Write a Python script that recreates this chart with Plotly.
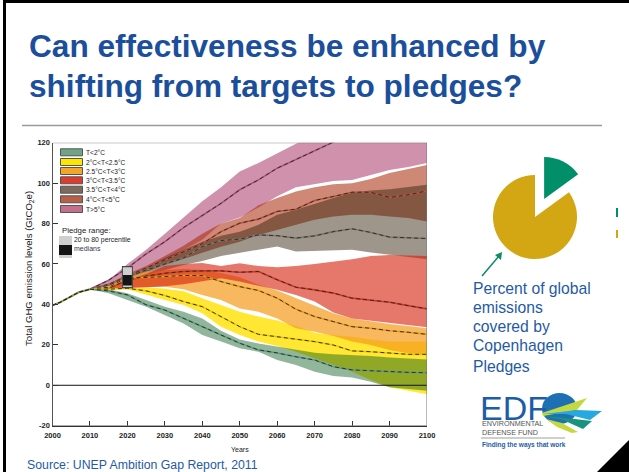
import plotly.graph_objects as go

W, H = 629, 472
YEARS = [2010, 2015, 2020, 2025, 2030, 2035, 2040, 2045, 2050, 2055, 2060, 2065, 2070, 2075, 2080, 2085, 2090, 2095, 2100]

HIST_YEARS = [2000, 2002, 2005, 2007, 2010]
HIST_VALUES = [39.5, 41, 44, 46, 47.5]

PINK_UP = [48, 52, 60, 67, 75, 83, 91, 98, 105.8, 110, 114.8, 119.5, 123, 127, 131, 135, 139, 143, 147]
PINK_LO = [47.5, 50, 54, 58, 62, 67, 72, 80, 83, 88, 93.5, 98, 99.5, 101, 101.5, 104, 106.5, 108, 110]
PINK_MED = [47.5, 52, 58, 65, 71, 78, 84, 90, 96.7, 101.6, 107.4, 111.6, 116.2, 120.3, 125]

RUST_UP = [47.5, 50, 55, 59, 64, 69, 75, 80, 82.7, 89, 92.6, 95.9, 98, 99.5, 100, 102, 105, 107, 109]
RUST_LO = [47.5, 49.5, 53, 56, 59.5, 62.5, 65.5, 68.5, 71, 74.4, 76.9, 79.4, 81.9, 83.5, 84.3, 84.3, 83.5, 82.7, 81]
RUST_MED = [47.5, 50, 54, 58, 62, 66, 70, 76, 80.2, 82.2, 86, 87.1, 91.4, 93.4, 95.5, 95.5, 92.9, 94.2, 96.2]

GREY_UP = [47.5, 49.5, 54, 58, 63, 67, 71, 74, 76, 79.4, 84.3, 86.8, 89.8, 92.6, 95.4, 96.4, 97, 98, 99.2]
GREY_LO = [47.5, 49, 52, 54.5, 57, 59.5, 61.5, 64, 65.4, 67, 68.6, 66.2, 66.5, 66.7, 67, 65.7, 64.4, 63.5, 62.4]
GREY_MED = [47.5, 49.5, 53.5, 57, 60, 63, 68.6, 71.6, 72.3, 74.4, 74, 72.8, 73.9, 76, 77.4, 75.6, 73.3, 72.8, 72.6]

RED_UP = [47.5, 48.5, 52, 55, 59, 60, 60.5, 59, 60.4, 59, 58.4, 59, 60, 61.2, 62.4, 64, 64.4, 64.2, 64]
RED_LO = [47.5, 47.5, 48, 48.5, 49, 50, 51.5, 53, 51.3, 49.2, 47.2, 44.7, 41.4, 36, 33, 32, 30.6, 29.8, 28.7]
RED_MED = [47.5, 48, 52, 54, 55.4, 56.3, 56.6, 56.6, 55.9, 56.3, 52.2, 48.5, 47.2, 45.6, 43.1, 42.2, 41.1, 39.4, 37.8]

ORANGE_UP = [47.5, 48.5, 53.8, 56.3, 57, 57.5, 57, 55.5, 53.5, 49.7, 46.9, 43, 39.3, 35.6, 33, 31.6, 30.3, 29.3, 28.2]
ORANGE_LO = [47.5, 47.5, 48.5, 48.8, 48.8, 47.5, 44.7, 42.2, 38, 36.4, 33, 28.2, 26.5, 24.4, 21.6, 19.9, 17.4, 15.8, 15]
ORANGE_MED = [47.5, 48.5, 53.3, 53.3, 53.8, 54.3, 54.3, 51.3, 48.8, 46.9, 43.1, 37.6, 34, 31.5, 29, 28.2, 27, 26.2, 25.2]

YELLOW_UP = [47.5, 47.5, 48, 48.5, 47.8, 46.5, 43, 39.8, 36.4, 34, 32, 29.3, 26, 24.7, 24, 22.7, 21.6, 21.6, 21.6]
YELLOW_LO = [47.5, 47.5, 47.5, 44.7, 42.2, 39.7, 35.6, 29, 24.9, 21.6, 19.4, 16.6, 13.3, 10, 6.7, 2.6, -1, -2.8, -4.5]
YELLOW_MED = [47.5, 47.5, 48, 46.7, 44.4, 41.4, 38.9, 34, 29, 25.2, 24, 22.7, 21.6, 19.9, 17, 16.6, 15.8, 15.3, 15.3]

GREEN_UP = [47.5, 47.5, 45.5, 42.2, 38.9, 36.4, 33, 27, 22.7, 20.7, 19.1, 17.8, 16.1, 15.3, 15, 14.5, 13.8, 13.3, 12.8]
GREEN_LO = [47.5, 45.5, 42.2, 38.9, 34.8, 30.6, 24.9, 21.6, 18.3, 16.6, 12.5, 10, 6.7, 4.6, 3.9, 1.8, -1, -1.9, -2.7]
GREEN_MED = [47.5, 46.7, 44.7, 39.8, 37.2, 33.1, 29, 24.9, 20.8, 17.5, 16, 14.1, 12.5, 9.2, 7.6, 7.2, 6.7, 6.4, 6.2]

PLEDGE_YEAR = [2020, 2020]
PLEDGE_RANGE = [48, 59]
PLEDGE_MED = [49.3, 54.5]

X_TICKS = [2000, 2010, 2020, 2030, 2040, 2050, 2060, 2070, 2080, 2090, 2100]
Y_TICKS = [-20, 0, 20, 40, 60, 80, 100, 120]
Y_TICK_TEXT = ["-20", "0", "20", "40", "60", "80", "100", "120"]

LEGEND_LABELS = ["T&lt;2°C", "2°C&lt;T&lt;2.5°C", "2.5°C&lt;T&lt;3°C", "3°C&lt;T&lt;3.5°C", "3.5°C&lt;T&lt;4°C", "4°C&lt;T&lt;5°C", "T&gt;5°C"]
LEGEND_COLORS = ["#6fa586", "#ffe600", "#f5a52a", "#dd3c2c", "#7c6b5d", "#b85f48", "#c4708c"]

PIE_LABELS = ["Covered", "Not covered"]
PIE_VALUES = [15, 85]

TEXT_BLUE = "#1f5aa6"
TITLE_BLUE = "#1b4f9c"
NARROW = "Liberation Sans Narrow, Liberation Sans, sans-serif"
SANS = "Liberation Sans, Arial, sans-serif"


def fx(px):
    return px / W


def fy(py):
    return 1 - py / H


fig = go.Figure()

bands = [
    (PINK_UP, PINK_LO, "rgba(165,45,95,0.52)"),
    (RUST_UP, RUST_LO, "rgba(167,38,5,0.55)"),
    (GREY_UP, GREY_LO, "rgba(49,32,9,0.47)"),
    (YELLOW_UP, YELLOW_LO, "rgba(255,228,30,0.9)"),
    (ORANGE_UP, ORANGE_LO, "rgba(243,154,27,0.7)"),
    (RED_UP, RED_LO, "rgba(213,28,9,0.6)"),
    (GREEN_UP, GREEN_LO, "rgba(0,85,24,0.43)"),
]
for up, lo, col in bands:
    fig.add_trace(go.Scatter(x=YEARS + YEARS[::-1], y=up + lo[::-1], fill="toself", fillcolor=col,
                             mode="lines", line=dict(width=0), hoverinfo="skip", showlegend=False))

medians = [
    (PINK_MED, "#a85a78"), (RUST_MED, "#b5563f"), (GREY_MED, "#7f776c"), (RED_MED, "#c83c2c"),
    (ORANGE_MED, "#e69a20"), (YELLOW_MED, "#e8c810"), (GREEN_MED, "#5f9c80"),
]
for med, col in medians:
    xs = YEARS[:len(med)]
    fig.add_trace(go.Scatter(x=xs, y=med, mode="lines", line=dict(color=col, width=1.6),
                             hoverinfo="skip", showlegend=False))
    fig.add_trace(go.Scatter(x=xs, y=med, mode="lines", line=dict(color="#262626", width=0.9, dash="4px,3px"),
                             hoverinfo="skip", showlegend=False))

fig.add_trace(go.Scatter(x=HIST_YEARS, y=HIST_VALUES, mode="lines", line=dict(color="#8c9c50", width=2),
                         hoverinfo="skip", showlegend=False))
fig.add_trace(go.Scatter(x=HIST_YEARS, y=HIST_VALUES, mode="lines", line=dict(color="#1e1e1e", width=1.2, dash="4px,2px"),
                         hoverinfo="skip", showlegend=False))

fig.add_trace(go.Scatter(x=PLEDGE_YEAR, y=PLEDGE_RANGE, mode="lines", line=dict(color="#444444", width=11),
                         hoverinfo="skip", showlegend=False))
fig.add_trace(go.Scatter(x=PLEDGE_YEAR, y=[PLEDGE_RANGE[0] + 0.6, PLEDGE_RANGE[1] - 0.6], mode="lines",
                         line=dict(color="#cfcfcf", width=9), hoverinfo="skip", showlegend=False))
fig.add_trace(go.Scatter(x=PLEDGE_YEAR, y=PLEDGE_MED, mode="lines", line=dict(color="#151515", width=9),
                         hoverinfo="skip", showlegend=False))

fig.add_trace(go.Scatter(x=[2000, 2100], y=[0, 0], mode="lines", line=dict(color="#111111", width=1),
                         hoverinfo="skip", showlegend=False))

# invisible full-page pixel axes that carry the slide furniture
fig.add_trace(go.Scatter(x=[0], y=[0], xaxis="x2", yaxis="y2", mode="markers", marker=dict(opacity=0, size=1),
                         hoverinfo="skip", showlegend=False))

# pie: centre (535,217), radius 42, pull 0.48
PIE_R = 42 * 1.48
fig.add_trace(go.Pie(labels=PIE_LABELS, values=PIE_VALUES, sort=False, direction="clockwise", rotation=0,
                     pull=[0.48, 0], marker=dict(colors=["#008f68", "#d3a613"], line=dict(width=0)),
                     textinfo="none", hoverinfo="skip", showlegend=False,
                     domain=dict(x=[fx(535 - PIE_R), fx(535 + PIE_R)], y=[fy(217 + PIE_R), fy(217 - PIE_R)])))

shapes = []


def rect(x0, y0, x1, y1, fill, line=None, lw=0):
    shapes.append(dict(type="rect", xref="x2", yref="y2", x0=x0, x1=x1, y0=y0, y1=y1,
                       fillcolor=fill, line=dict(color=line or fill, width=lw), layer="above"))


def poly(points, fill):
    d = "M" + " L".join(f"{a:.2f},{b:.2f}" for a, b in points) + " Z"
    shapes.append(dict(type="path", xref="x2", yref="y2", path=d, fillcolor=fill, line=dict(width=0), layer="above"))


def seg(x0, y0, x1, y1, color, width):
    shapes.append(dict(type="line", xref="x2", yref="y2", x0=x0, x1=x1, y0=y0, y1=y1,
                       line=dict(color=color, width=width), layer="above"))


# slide frame
rect(3, 0, 6, 472, "#000000")
rect(3, 0, 629, 3, "#000000")
poly([(597, 472), (629, 440), (629, 472)], "#000000")
seg(22, 125.5, 602, 125.5, "#9a9a9a", 1.5)

# plot frame
shapes.append(dict(type="rect", xref="x", yref="y", x0=2000, x1=2100, y0=-20, y1=120,
                   line=dict(color="#777777", width=1), layer="above"))

# legend swatches
SW_Y = [152.3, 162, 171, 180.3, 189.7, 199.3, 209]
for yy, col in zip(SW_Y, LEGEND_COLORS):
    rect(60.5, yy - 3.5, 82.5, yy + 3.5, col, "#555555", 1)
rect(59, 236, 72, 258, "#cfcfcf")
rect(59, 245, 72, 255, "#151515")

# pie side marks
rect(616, 208, 618, 217, "#008f68")
rect(616, 230, 618, 238, "#d3a613")

# arrow to the pie
seg(482, 276, 499, 256, "#0d8a68", 1.5)
poly([(502, 252), (501, 260), (495, 255)], "#0d8a68")

# logo
shapes.append(dict(type="circle", xref="x2", yref="y2", x0=542, x1=577, y0=393, y1=424,
                   fillcolor="#1f6fb5", line=dict(width=0), layer="above"))
poly([(542, 413), (587, 398), (577, 410), (543, 416)], "#c4d93f")
poly([(543, 414), (577, 410), (602, 411), (590, 420), (566, 414)], "#27a9e0")
poly([(543, 416), (566, 418), (592, 421), (583, 429), (563, 420)], "#17937f")
poly([(546, 419), (562, 423), (578, 432), (572, 433), (557, 427)], "#c4d93f")
seg(481, 438, 565, 438, "#777777", 0.7)

ann = []


def text(px, py, s, size, color="#222222", family=SANS, anchor="left", angle=0):
    ann.append(dict(x=px, y=py, xref="x2", yref="y2", text=s, showarrow=False,
                    xanchor=anchor, yanchor="middle", align="left", textangle=angle,
                    font=dict(size=size, color=color, family=family)))


text(27, 46, "<b>Can effectiveness be enhanced by</b>", 31.6, TITLE_BLUE)
text(27, 86, "<b>shifting from targets to pledges?</b>", 31.6, TITLE_BLUE)
for yy, lab in zip(SW_Y, LEGEND_LABELS):
    text(84, yy, lab, 6.6, "#222222", NARROW)
text(60, 230, "Pledge range:", 7.8, "#222222", NARROW)
text(72, 240, "20 to 80 percentile", 6.9, "#222222", NARROW)
text(72, 248.5, "medians", 7, "#333355", NARROW)
text(29, 269, "Total GHG emission levels (GtCO<sub>2</sub>e)", 9.6, "#222222", SANS, "center", -90)
text(240, 449, "Years", 7, "#222222", NARROW, "center")
text(25, 465, "Source: UNEP Ambition Gap Report, 2011", 12.3, TEXT_BLUE)
for yy, s in zip([288, 307, 326, 345, 366], ["Percent of global", "emissions", "covered by", "Copenhagen", "Pledges"]):
    text(471, yy, s, 15.7, TEXT_BLUE)
text(478, 408, "EDF", 34, "#1c5da8")
text(480, 423.5, "ENVIRONMENTAL", 7.2, "#555555", NARROW)
text(480, 432, "DEFENSE FUND", 7.2, "#555555", NARROW)
text(480, 445, "<b>Finding the ways that work</b>", 6.5, "#1c5da8")

AXIS_FONT = dict(size=7.5, family=NARROW, color="#222222", weight=700)
fig.update_layout(
    width=W, height=H, margin=dict(l=0, r=0, t=0, b=0, autoexpand=False), paper_bgcolor="white",
    plot_bgcolor="rgba(0,0,0,0)", showlegend=False, shapes=shapes, annotations=ann,
    xaxis=dict(domain=[fx(52.5), fx(427)], range=[2000, 2100], tickmode="array", automargin=False,
               tickvals=X_TICKS, ticks="inside", ticklen=5, tickcolor="#333333", tickwidth=1,
               ticklabelstandoff=2,
               showgrid=False, zeroline=False, showline=True, linecolor="#333333", linewidth=1.2, mirror=False,
               tickfont=AXIS_FONT),
    yaxis=dict(domain=[fy(425.7), fy(142.7)], range=[-20, 120], tickmode="array", automargin=False,
               tickvals=Y_TICKS, ticktext=Y_TICK_TEXT, ticks="inside", ticklen=5, tickcolor="#333333", tickwidth=1,
               showgrid=False, zeroline=False, showline=True, linecolor="#333333", linewidth=1.2, mirror=False,
               tickfont=AXIS_FONT),
    xaxis2=dict(domain=[0, 1], range=[0, W], visible=False, anchor="y2", automargin=False, fixedrange=True),
    yaxis2=dict(domain=[0, 1], range=[H, 0], visible=False, anchor="x2", automargin=False, fixedrange=True),
)

fig.write_html("out.html", config=dict(displayModeBar=False),
               post_script="document.body.style.margin='0';document.documentElement.style.overflow='hidden';")
